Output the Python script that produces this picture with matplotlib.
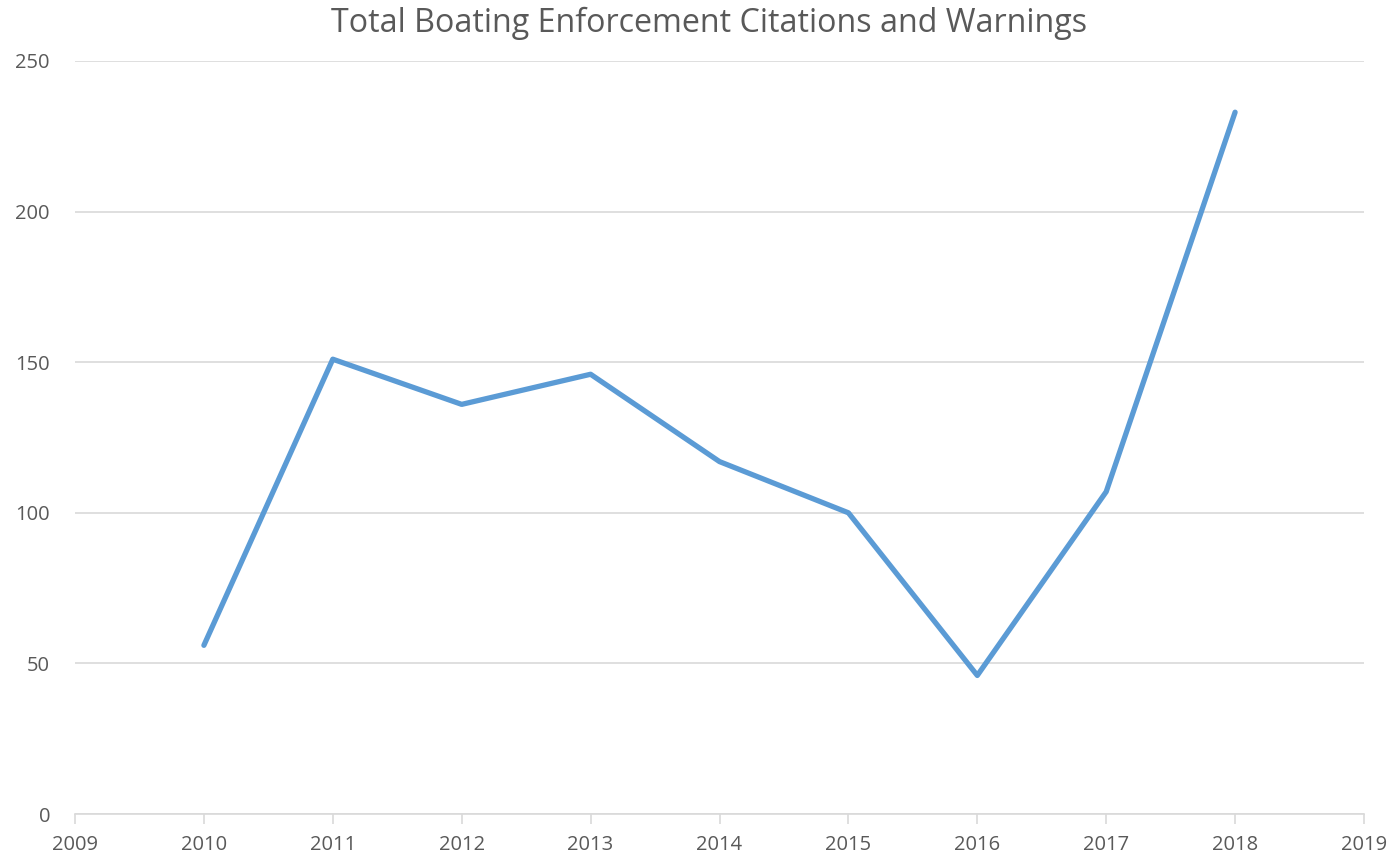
import matplotlib.pyplot as plt

years = [2010, 2011, 2012, 2013, 2014, 2015, 2016, 2017, 2018]
totals = [56, 151, 136, 146, 117, 100, 46, 107, 233]

x_ticks = list(range(2009, 2020))
y_ticks = [0, 50, 100, 150, 200, 250]

text_color = "#595959"
grid_color = "#D9D9D9"
line_color = "#5B9BD5"

plt.rcParams["font.family"] = ["Open Sans", "DejaVu Sans"]

fig = plt.figure(figsize=(13.96, 8.59), dpi=100)
ax = fig.add_axes([75 / 1396, 1 - 814 / 859, (1364 - 75) / 1396, (814 - 61) / 859])

ax.plot(years, totals, color=line_color, linewidth=3.8, solid_capstyle="round",
        solid_joinstyle="round", zorder=3)

ax.set_xlim(2009, 2019)
ax.set_ylim(0, 250)
ax.set_xticks(x_ticks)
ax.set_yticks(y_ticks)

ax.grid(axis="y", color=grid_color, linewidth=1.2, zorder=0)
for side in ["top", "right", "left"]:
    ax.spines[side].set_visible(False)
ax.spines["bottom"].set_color(grid_color)
ax.spines["bottom"].set_linewidth(1.2)

ax.tick_params(axis="x", colors=grid_color, direction="out", length=7, width=1.2,
               labelcolor=text_color, labelsize=14.5, pad=8)
ax.tick_params(axis="y", length=0, labelcolor=text_color, labelsize=14.5, pad=18)

fig.suptitle("Total Boating Enforcement Citations and Warnings", color=text_color,
             fontsize=23.2, x=0.508, y=0.992, va="top")

fig.savefig("out.png", dpi=100)
